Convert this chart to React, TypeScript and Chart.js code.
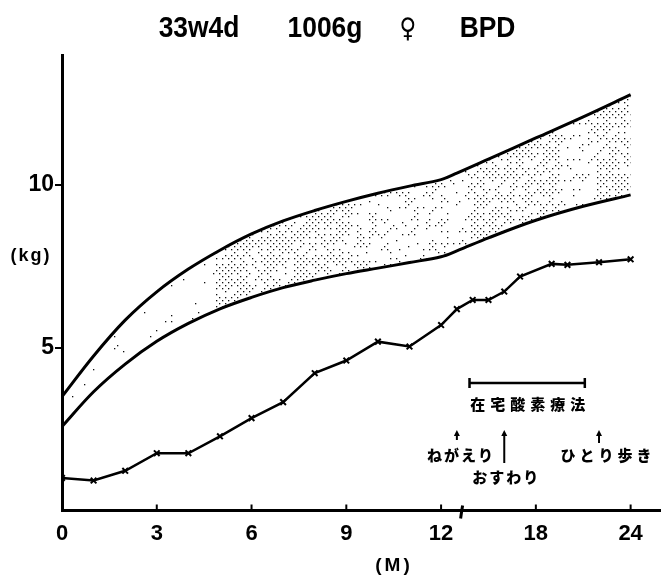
import React, { useEffect, useRef } from "react";
import { Chart, registerables } from "chart.js";

Chart.register(...registerables);

// ---- data (months, kg) ----
const bandMonths = [0, 1, 2, 3, 4, 5, 6, 7, 8, 9, 10, 11, 12, 13, 15, 18, 21, 24];
const upperBand = [3.5, 4.75, 5.85, 6.72, 7.42, 8.0, 8.5, 8.9, 9.22, 9.5, 9.75, 9.97, 10.17, 10.37, 10.8, 11.45, 12.1, 12.78];
const lowerBand = [2.58, 3.65, 4.5, 5.2, 5.75, 6.2, 6.55, 6.85, 7.08, 7.28, 7.45, 7.62, 7.8, 7.98, 8.38, 8.92, 9.35, 9.7];

const patientMonths = [0, 1, 2, 3, 4, 5, 6, 7, 8, 9, 10, 11, 12, 13, 14, 15, 16, 17, 19, 20, 22, 24];
const patientWeight = [1.0, 0.92, 1.22, 1.76, 1.76, 2.28, 2.84, 3.33, 4.22, 4.61, 5.19, 5.04, 5.7, 6.19, 6.47, 6.47, 6.73, 7.19, 7.58, 7.55, 7.63, 7.72];

const xTickMonths = [0, 3, 6, 9, 12, 18, 24];
const yTickValues = [5, 10];

const titleParts = ["33w4d", "1006g", "♀", "BPD"];
const yAxisLabel = "(kg)";
const xAxisLabel = "(M)";

const oxygenLabel = "在宅酸素療法";
const oxygenMonths = [13.8, 21.1];
const milestoneLabels = ["ねがえり", "おすわり", "ひとり歩き"];
const milestoneMonths = [13, 16, 22];

// axis is broken after 12 months: 12..24 drawn at half scale
const toU = (m: number) => (m <= 12 ? m : 12 + (m - 12) / 2);
const fromU = (u: number) => (u <= 12 ? u : 12 + (u - 12) * 2);

const pts = (ms: number[], vs: number[]) => ms.map((m, i) => ({ x: toU(m), y: vs[i] }));

// deterministic hash for the stipple texture (texture only, not data)
const hash = (i: number, j: number) => {
  const s = Math.sin(i * 12.9898 + j * 78.233) * 43758.5453;
  return s - Math.floor(s);
};

// stipple texture, denser in some stretches like the printed original
function makePattern(w: number, h: number): CanvasPattern | string {
  const c = document.createElement("canvas");
  c.width = w;
  c.height = h;
  const g = c.getContext("2d");
  if (!g) return "rgba(0,0,0,0.15)";
  g.fillStyle = "#111";
  for (let j = 0; j * 3 < h; j++) {
    for (let i = 0; i * 6 < w; i++) {
      const px = i * 6 + (j % 2) * 3;
      const py = j * 3;
      let density = 0.75;
      if (px < 215) density = 0.07;
      else if (px >= 350 && px < 470) density = 0.35;
      else if (px >= 560 && px < 595) density = 0.25;
      if (hash(i, j) < density) g.fillRect(px, py, 1.3, 1.3);
    }
  }
  const p = g.createPattern(c, "no-repeat");
  return p || "rgba(0,0,0,0.15)";
}

const decorPlugin = {
  id: "decor",
  afterDraw(chart: any) {
    const { ctx, chartArea } = chart;
    const x = chart.scales.x;
    ctx.save();
    ctx.fillStyle = "#000";
    ctx.strokeStyle = "#000";

    // inward x ticks
    ctx.lineWidth = 2;
    xTickMonths.forEach((m) => {
      if (m === 0) return;
      const px = x.getPixelForValue(toU(m));
      ctx.beginPath();
      ctx.moveTo(px, chartArea.bottom);
      ctx.lineTo(px, chartArea.bottom - 6);
      ctx.stroke();
    });

    // axis break mark
    const bx = x.getPixelForValue(toU(13.3));
    ctx.lineWidth = 3;
    ctx.beginPath();
    ctx.moveTo(bx + 1, chartArea.bottom - 5);
    ctx.lineTo(bx, chartArea.bottom + 1);
    ctx.lineTo(bx - 1, chartArea.bottom + 8);
    ctx.stroke();

    // title
    ctx.textBaseline = "alphabetic";
    ctx.textAlign = "center";
    const titleX = [199, 325, 408, 487.5];
    titleParts.forEach((t, i) => {
      ctx.save();
      ctx.translate(titleX[i], 37);
      if (t === "♀") {
        ctx.font = 'bold 27px "DejaVu Sans"';
        ctx.scale(0.85, 1);
      } else {
        ctx.font = 'bold 30px "Liberation Sans", Arial, sans-serif';
        ctx.scale(0.88, 1);
      }
      ctx.fillText(t, 0, 0);
      ctx.restore();
    });

    // axis labels
    ctx.textBaseline = "middle";
    ctx.font = 'bold 18px "Liberation Sans", Arial, sans-serif';
    (ctx as any).letterSpacing = "2px";
    ctx.fillText(yAxisLabel, 31, 256);
    ctx.font = 'bold 19px "Liberation Sans", Arial, sans-serif';
    (ctx as any).letterSpacing = "3px";
    ctx.fillText(xAxisLabel, 394, 566);

    // home oxygen therapy bracket
    const ox1 = x.getPixelForValue(toU(oxygenMonths[0]));
    const ox2 = x.getPixelForValue(toU(oxygenMonths[1]));
    const oy = 383;
    ctx.lineWidth = 2.5;
    ctx.beginPath();
    ctx.moveTo(ox1, oy);
    ctx.lineTo(ox2, oy);
    ctx.moveTo(ox1, oy - 5);
    ctx.lineTo(ox1, oy + 5);
    ctx.moveTo(ox2, oy - 5);
    ctx.lineTo(ox2, oy + 5);
    ctx.stroke();
    ctx.font = '900 15px "Noto Sans CJK JP"';
    (ctx as any).letterSpacing = "5px";
    ctx.fillText(oxygenLabel, (ox1 + ox2) / 2 + 3, 404);

    // milestones
    const textDx = [4, 2, 9];
    const textY = [455, 477, 455];
    const arrowBottom = [440, 463, 443];
    const spacing = ["2px", "2px", "4px"];
    milestoneLabels.forEach((label, i) => {
      const ax = x.getPixelForValue(toU(milestoneMonths[i]));
      const top = 430;
      ctx.lineWidth = 2;
      ctx.beginPath();
      ctx.moveTo(ax, arrowBottom[i]);
      ctx.lineTo(ax, top + 4);
      ctx.stroke();
      ctx.beginPath();
      ctx.moveTo(ax, top);
      ctx.lineTo(ax - 3, top + 6);
      ctx.lineTo(ax + 3, top + 6);
      ctx.closePath();
      ctx.fill();
      ctx.font = '900 15px "Noto Sans CJK JP"';
      (ctx as any).letterSpacing = spacing[i];
      ctx.fillText(label, ax + textDx[i], textY[i]);
    });
    ctx.restore();
  },
};

export default function App() {
  const ref = useRef<HTMLCanvasElement | null>(null);

  useEffect(() => {
    if (!ref.current) return;
    const pattern = makePattern(666, 580);
    const chart = new Chart(ref.current, {
      type: "line",
      data: {
        datasets: [
          {
            data: pts(bandMonths, upperBand),
            borderColor: "#000",
            borderWidth: 3,
            pointRadius: 0,
            tension: 0.35,
            fill: "+1",
            backgroundColor: pattern as any,
          },
          {
            data: pts(bandMonths, lowerBand),
            borderColor: "#000",
            borderWidth: 3,
            pointRadius: 0,
            tension: 0.35,
            fill: false,
          },
          {
            data: pts(patientMonths, patientWeight),
            borderColor: "#000",
            borderWidth: 2.5,
            tension: 0,
            pointStyle: "crossRot",
            pointRadius: 4,
            pointBorderWidth: 2,
            pointBorderColor: "#000",
            fill: false,
          },
        ],
      },
      options: {
        responsive: false,
        animation: false,
        devicePixelRatio: 1,
        layout: { padding: { top: 55, left: 0, right: 0, bottom: 0 } },
        plugins: { legend: { display: false }, tooltip: { enabled: false } },
        scales: {
          x: {
            type: "linear",
            min: 0,
            max: 18.93,
            afterFit: (s: any) => {
              s.height = 69.5;
            },
            afterBuildTicks: (s: any) => {
              s.ticks = xTickMonths.map((m) => ({ value: toU(m) }));
            },
            ticks: {
              color: "#000",
              padding: 10,
              maxRotation: 0,
              autoSkip: false,
              font: { family: '"Liberation Sans", Arial, sans-serif', weight: "bold", size: 22 },
              callback: (v: any) => String(Math.round(fromU(Number(v)))),
            },
            grid: { display: false, drawTicks: false },
            border: { display: true, color: "#000", width: 3 },
          },
          y: {
            min: 0,
            max: 14,
            afterFit: (s: any) => {
              s.width = 62;
            },
            afterBuildTicks: (s: any) => {
              s.ticks = yTickValues.map((v) => ({ value: v }));
            },
            ticks: {
              color: "#000",
              padding: 1,
              font: { family: '"Liberation Sans", Arial, sans-serif', weight: "bold", size: 23 },
            },
            grid: {
              display: true,
              drawOnChartArea: false,
              drawTicks: true,
              tickLength: 7,
              lineWidth: 2,
              color: "#000",
            },
            border: { display: true, color: "#000", width: 3 },
          },
        },
      },
      plugins: [decorPlugin],
    });
    return () => chart.destroy();
  }, []);

  return (
    <div style={{ position: "absolute", left: 0, top: 0, width: 666, height: 580, background: "#fff" }}>
      <canvas ref={ref} width={666} height={580} />
    </div>
  );
}
